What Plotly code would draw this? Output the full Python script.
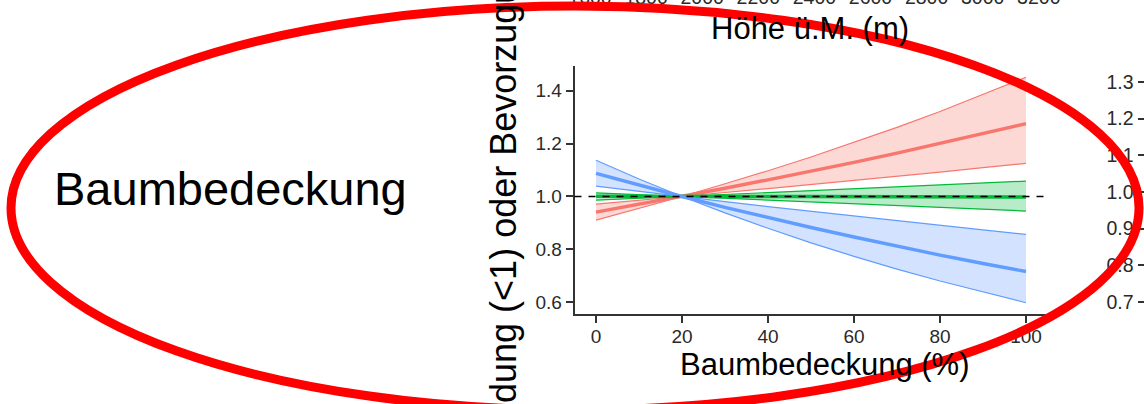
import plotly.graph_objects as go

W, H = 1144, 404
FONT = "Liberation Sans, Arial, Helvetica, sans-serif"

# Tree cover (%) at which the relative selection ratios are given
cover = [0, 10, 20, 30, 40, 50, 60, 70, 80, 90, 100]

# Relative selection (avoidance < 1, preference > 1) with confidence bounds
red_mean = [0.941, 0.970, 1.000, 1.031, 1.063, 1.095, 1.129, 1.164, 1.200, 1.237, 1.275]
red_b1 = [0.911, 0.955, 1.000, 1.048, 1.097, 1.149, 1.204, 1.261, 1.321, 1.384, 1.450]
red_b2 = [0.971, 0.985, 1.000, 1.015, 1.030, 1.045, 1.061, 1.076, 1.092, 1.109, 1.125]

green_mean = [1.001, 1.000, 1.000, 1.000, 1.000, 1.000, 0.999, 0.999, 0.999, 0.999, 0.998]
green_b1 = [0.986, 0.993, 1.000, 1.007, 1.014, 1.021, 1.029, 1.036, 1.043, 1.051, 1.058]
green_b2 = [1.014, 1.007, 1.000, 0.993, 0.986, 0.979, 0.972, 0.965, 0.958, 0.952, 0.945]

blue_mean = [1.087, 1.042, 1.000, 0.959, 0.920, 0.883, 0.847, 0.812, 0.779, 0.747, 0.717]
blue_b1 = [1.137, 1.066, 1.000, 0.938, 0.880, 0.825, 0.774, 0.726, 0.681, 0.639, 0.599]
blue_b2 = [1.039, 1.019, 1.000, 0.981, 0.962, 0.944, 0.926, 0.908, 0.891, 0.874, 0.857]

x_ticks = [0, 20, 40, 60, 80, 100]
y_ticks = [0.6, 0.8, 1.0, 1.2, 1.4]
y_ticktext = ["0.6", "0.8", "1.0", "1.2", "1.4"]

# Neighbouring panels: elevation axis above, right-hand ratio axis
elev_ticks = [1600, 1800, 2000, 2200, 2400, 2600, 2800, 3000, 3200]
right_ticks = [0.7, 0.8, 0.9, 1.0, 1.1, 1.2, 1.3]
right_ticktext = ["0.7", "0.8", "0.9", "1.0", "1.1", "1.2", "1.3"]

RED, GREEN, BLUE = "#F8766D", "#00BA38", "#619CFF"


def rgba(hex_color, a):
    h = hex_color.lstrip("#")
    r, g, b = int(h[0:2], 16), int(h[2:4], 16), int(h[4:6], 16)
    return f"rgba({r},{g},{b},{a})"


def px_x(p):
    return p / W


def px_y(p):
    return 1 - p / H


fig = go.Figure()

for color, b2, b1, mean in [
    (RED, red_b2, red_b1, red_mean),
    (GREEN, green_b2, green_b1, green_mean),
    (BLUE, blue_b2, blue_b1, blue_mean),
]:
    fig.add_trace(go.Scatter(x=cover, y=b2, mode="lines",
                             line=dict(color=color, width=1.2),
                             hoverinfo="skip", showlegend=False))
    fig.add_trace(go.Scatter(x=cover, y=b1, mode="lines", fill="tonexty",
                             fillcolor=rgba(color, 0.28),
                             line=dict(color=color, width=1.2),
                             hoverinfo="skip", showlegend=False))
    fig.add_trace(go.Scatter(x=cover, y=mean, mode="lines",
                             line=dict(color=color, width=3.4),
                             showlegend=False))

# empty trace so the neighbouring axes get drawn
fig.add_trace(go.Scatter(x=[], y=[], xaxis="x2", yaxis="y2",
                         hoverinfo="skip", showlegend=False))

axis_common = dict(showgrid=False, zeroline=False, showline=True,
                   automargin=False,
                   linecolor="#333333", linewidth=1.5, ticks="outside",
                   ticklen=7, tickwidth=1.5, tickcolor="#333333",
                   tickfont=dict(family=FONT, size=19, color="#2a2a2a"))

fig.update_layout(
    width=W, height=H, autosize=False,
    margin=dict(l=0, r=0, t=0, b=0, pad=0, autoexpand=False),
    paper_bgcolor="white", plot_bgcolor="white",
    showlegend=False,
    xaxis=dict(domain=[px_x(574.5), px_x(1047.5)], range=[-5, 105],
               tickvals=x_ticks, ticklabelstandoff=-3, **axis_common),
    yaxis=dict(domain=[px_y(314), px_y(66)], range=[0.5565, 1.4925],
               tickvals=y_ticks, ticktext=y_ticktext, **axis_common),
    xaxis2=dict(overlaying="x", anchor="free", position=px_y(8), side="top",
                range=[1544.7, 3231], tickvals=elev_ticks, automargin=False,
                showgrid=False, zeroline=False, showline=False, ticks="",
                tickfont=dict(family=FONT, size=19.5, color="#2a2a2a")),
    yaxis2=dict(overlaying="y", anchor="free", position=px_x(1143.5),
                side="left", range=[0.6673, 1.3436], tickvals=right_ticks,
                ticktext=right_ticktext, showgrid=False, zeroline=False,
                showline=False, ticks="outside", ticklen=6, tickwidth=1.5,
                tickcolor="#333333", automargin=False,
                tickfont=dict(family=FONT, size=19.5, color="#2a2a2a")),
)

# reference line at a ratio of 1
fig.add_hline(y=1, line=dict(color="black", width=1.5, dash="7px,7px"))

annotations = [
    dict(text="Baumbedeckung", x=px_x(52), y=px_y(188), xanchor="left",
         yanchor="middle", font=dict(family=FONT, size=47, color="black")),
    dict(text="Baumbedeckung (%)", x=px_x(825), y=px_y(364), xanchor="center",
         yanchor="middle", font=dict(family=FONT, size=31, color="black")),
    dict(text="Höhe ü.M. (m)", x=px_x(810), y=px_y(29), xanchor="center",
         yanchor="middle", font=dict(family=FONT, size=31, color="black")),
    dict(text="Meidung (<1) oder Bevorzugung (>1)", x=px_x(504), y=px_y(165),
         xanchor="center", yanchor="middle", textangle=-90,
         font=dict(family=FONT, size=36, color="black")),
]
for a in annotations:
    fig.add_annotation(xref="paper", yref="paper", showarrow=False, **a)

# highlight ring
fig.add_shape(type="circle", xref="paper", yref="paper", layer="above",
              x0=px_x(11), x1=px_x(1139), y0=px_y(410), y1=px_y(6),
              line=dict(color="#FF0000", width=9))

fig.write_html("out.html")
